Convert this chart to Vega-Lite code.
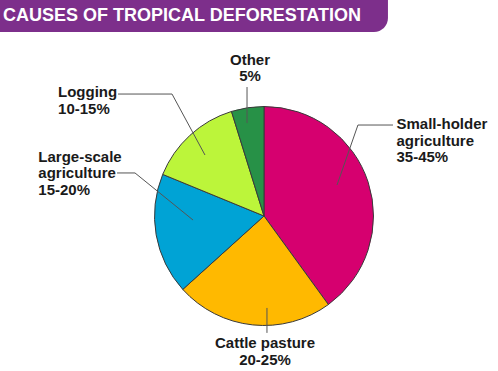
{
  "$schema": "https://vega.github.io/schema/vega-lite/v6.json",
  "width": 498,
  "height": 371,
  "autosize": {"type": "fit", "contains": "padding"},
  "padding": 0,
  "background": "white",
  "config": {"view": {"stroke": null}},
  "datasets": {
    "slices": [
      {"cause": "Small-holder agriculture", "share": 40, "rank": 1},
      {"cause": "Cattle pasture", "share": 23.3, "rank": 2},
      {"cause": "Large-scale agriculture", "share": 17.9, "rank": 3},
      {"cause": "Logging", "share": 14, "rank": 4},
      {"cause": "Other", "share": 4.8, "rank": 5}
    ],
    "leaders": [
      {"id": "Other", "seq": 1, "u": -0.155, "v": 1.178},
      {"id": "Other", "seq": 2, "u": -0.155, "v": 0.849},
      {"id": "Logging", "seq": 1, "u": -1.333, "v": 1.114},
      {"id": "Logging", "seq": 2, "u": -0.84, "v": 1.114},
      {"id": "Logging", "seq": 3, "u": -0.539, "v": 0.557},
      {"id": "Large", "seq": 1, "u": -1.342, "v": 0.393},
      {"id": "Large", "seq": 2, "u": -1.178, "v": 0.393},
      {"id": "Large", "seq": 3, "u": -0.648, "v": -0.037},
      {"id": "Small", "seq": 1, "u": 1.178, "v": 0.831},
      {"id": "Small", "seq": 2, "u": 0.858, "v": 0.831},
      {"id": "Small", "seq": 3, "u": 0.667, "v": 0.283},
      {"id": "Cattle", "seq": 1, "u": 0.027, "v": -0.84},
      {"id": "Cattle", "seq": 2, "u": 0.027, "v": -1.068}
    ],
    "labelsLeft": [
      {"text": ["Logging", "10-15%"], "u": -1.881, "v": 1.084},
      {"text": ["Large-scale", "agriculture", "15-20%"], "u": -2.061, "v": 0.496},
      {"text": ["Small-holder", "agriculture", "35-45%"], "u": 1.21, "v": 0.791}
    ],
    "labelsCenter": [
      {"text": ["Other", "5%"], "u": -0.128, "v": 1.382},
      {"text": ["Cattle pasture", "20-25%"], "u": 0.009, "v": -1.208}
    ],
    "banner": [
      {"u": -2.411, "u2": 1.132, "v": 1.973, "v2": 1.681, "title": "CAUSES OF TROPICAL DEFORESTATION", "tu": -2.384, "tv": 1.781}
    ]
  },
  "layer": [
    {
      "data": {"name": "banner"},
      "mark": {"type": "rect", "color": "#7d2f8b", "cornerRadiusBottomRight": 14},
      "encoding": {
        "x": {"field": "u", "type": "quantitative", "axis": null, "scale": {"domain": [-2.411, 2.137], "nice": false, "zero": false}},
        "x2": {"field": "u2"},
        "y": {"field": "v", "type": "quantitative", "axis": null, "scale": {"domain": [-1.416, 1.973], "nice": false, "zero": false}},
        "y2": {"field": "v2"}
      }
    },
    {
      "data": {"name": "banner"},
      "mark": {"type": "text", "align": "left", "baseline": "alphabetic", "font": "Liberation Sans", "fontWeight": "bold", "fontSize": 18, "color": "white"},
      "encoding": {
        "x": {"field": "tu", "type": "quantitative", "axis": null},
        "y": {"field": "tv", "type": "quantitative", "axis": null},
        "text": {"field": "title"}
      }
    },
    {
      "data": {"name": "slices"},
      "mark": {"type": "arc", "outerRadius": 109.5, "stroke": "#3a3a3a", "strokeWidth": 1},
      "encoding": {
        "x": {"datum": 0, "type": "quantitative", "axis": null},
        "y": {"datum": 0, "type": "quantitative", "axis": null},
        "theta": {"field": "share", "type": "quantitative", "stack": true},
        "order": {"field": "rank", "type": "quantitative"},
        "color": {
          "field": "cause", "type": "nominal", "legend": null,
          "scale": {
            "domain": ["Small-holder agriculture", "Cattle pasture", "Large-scale agriculture", "Logging", "Other"],
            "range": ["#d6006f", "#ffb900", "#00a3d5", "#bcf53a", "#279147"]
          }
        }
      }
    },
    {
      "data": {"name": "leaders"},
      "mark": {"type": "line", "color": "#555555", "strokeWidth": 1},
      "encoding": {
        "x": {"field": "u", "type": "quantitative", "axis": null},
        "y": {"field": "v", "type": "quantitative", "axis": null},
        "detail": {"field": "id"},
        "order": {"field": "seq", "type": "quantitative"}
      }
    },
    {
      "data": {"name": "labelsLeft"},
      "mark": {"type": "text", "align": "left", "baseline": "alphabetic", "font": "Liberation Sans", "fontWeight": "bold", "fontSize": 15, "lineHeight": 16.5, "color": "#1a1a1a"},
      "encoding": {
        "x": {"field": "u", "type": "quantitative", "axis": null},
        "y": {"field": "v", "type": "quantitative", "axis": null},
        "text": {"field": "text"}
      }
    },
    {
      "data": {"name": "labelsCenter"},
      "mark": {"type": "text", "align": "center", "baseline": "alphabetic", "font": "Liberation Sans", "fontWeight": "bold", "fontSize": 15, "lineHeight": 16.5, "color": "#1a1a1a"},
      "encoding": {
        "x": {"field": "u", "type": "quantitative", "axis": null},
        "y": {"field": "v", "type": "quantitative", "axis": null},
        "text": {"field": "text"}
      }
    }
  ]
}
